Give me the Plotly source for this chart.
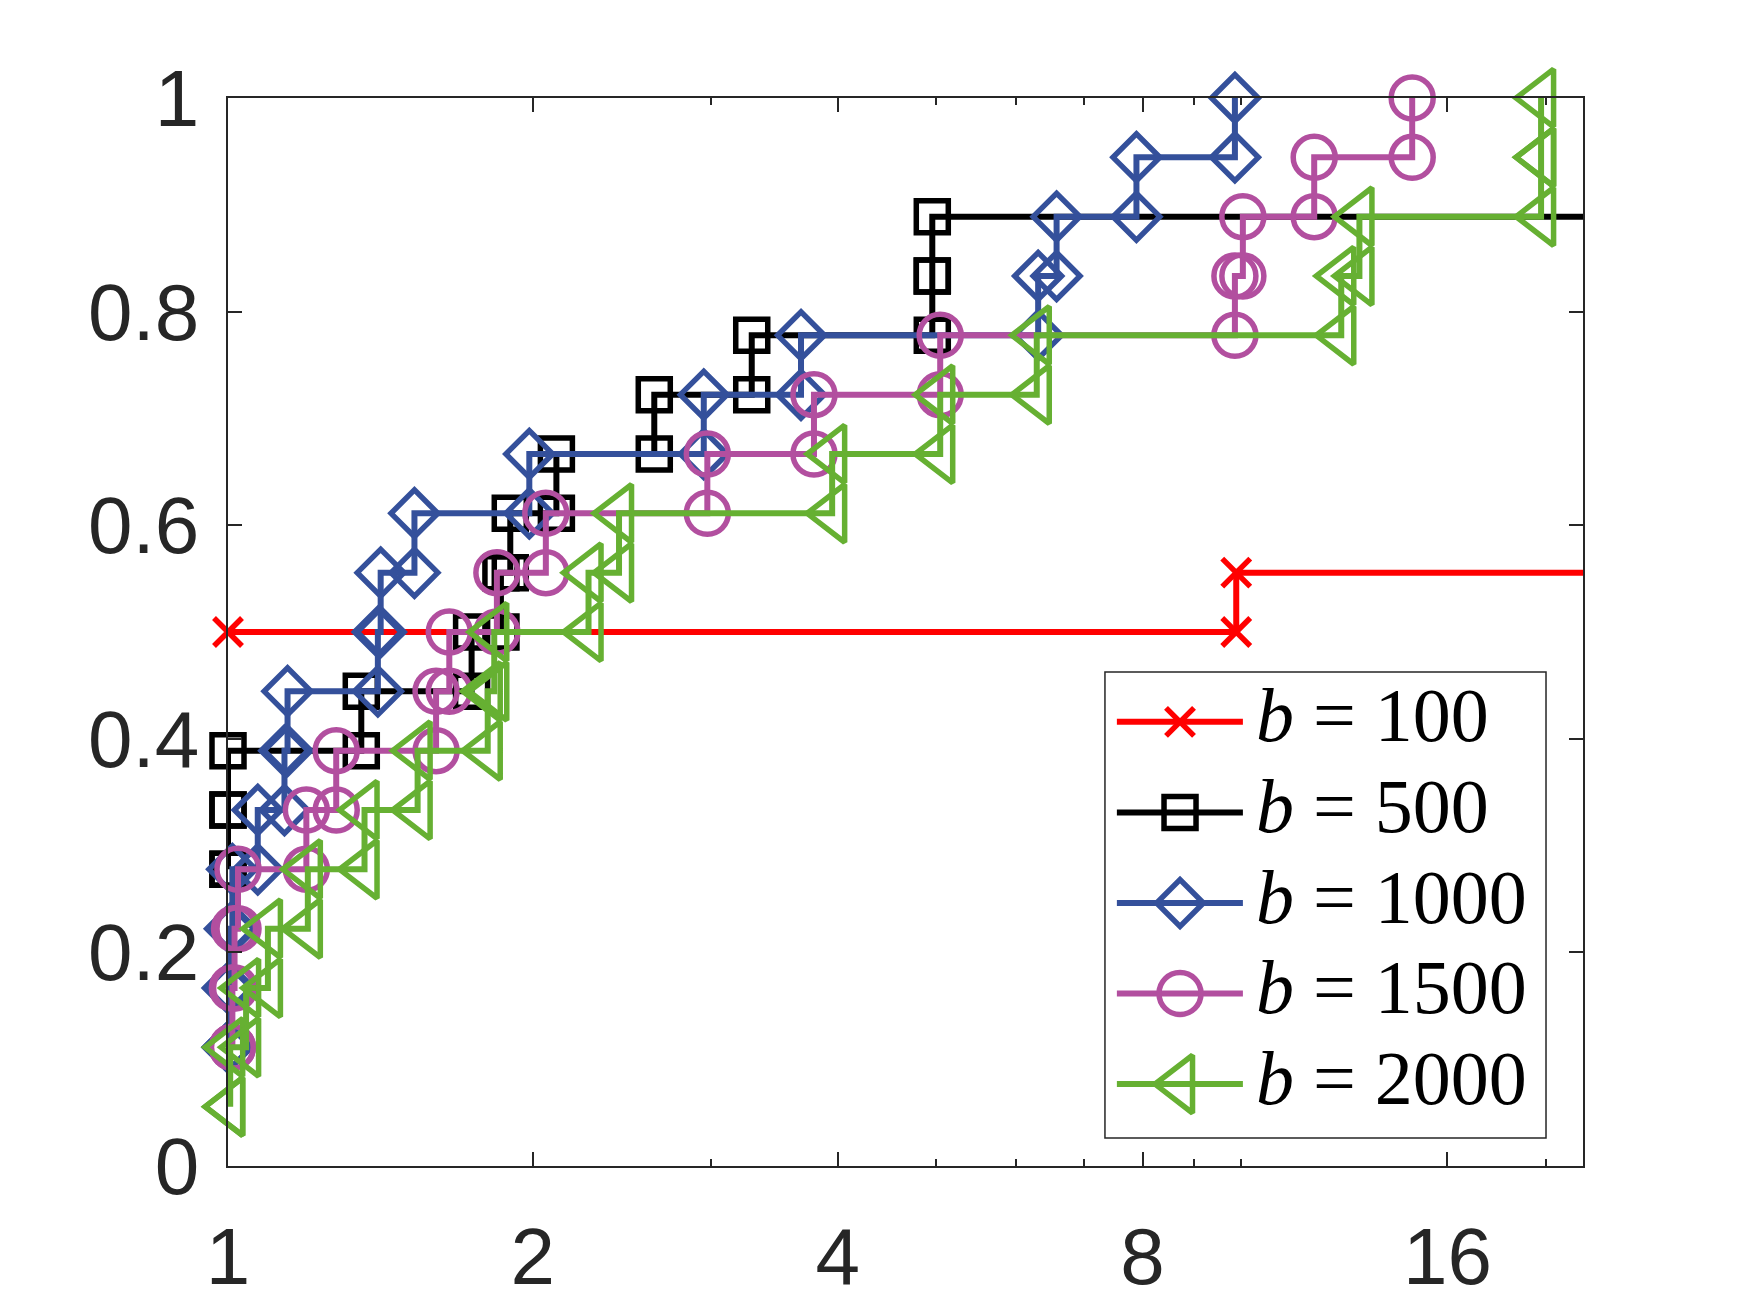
import math
import plotly.graph_objects as go

# performance profile: 18 test problems, ratio axis in log2
N_PROBLEMS = 18
MAX_RATIO = 19.8
FAIL_RATIO = 2 * MAX_RATIO   # failed runs, drawn off to the right

# ratio at which each profile steps up, and number of problems solved there
tau_b100 = [1.0, 9.9, FAIL_RATIO]
cnt_b100 = [9, 10, 18]

tau_b500 = [1.0, 1.0, 1.0, 1.354, 1.74, 1.86, 1.90, 2.11, 2.636, 3.29, 4.96, 4.96, FAIL_RATIO]
cnt_b500 = [5, 6, 7, 8, 9, 10, 11, 12, 13, 14, 15, 16, 18]

tau_b1000 = [1.0, 1.0, 1.005, 1.01, 1.07, 1.137, 1.145, 1.406, 1.415, 1.528,
             1.984, 2.95, 3.68, 6.31, 6.58, 7.89, 9.87]
cnt_b1000 = [2, 3, 4, 5, 6, 7, 8, 9, 10, 11, 12, 13, 14, 15, 16, 17, 18]

tau_b1500 = [1.01, 1.01, 1.015, 1.023, 1.195, 1.279, 1.605, 1.654, 1.843, 2.06,
             2.974, 3.79, 5.05, 9.87, 10.05, 11.82, 14.77]
cnt_b1500 = [2, 3, 4, 5, 6, 7, 8, 9, 10, 11, 12, 13, 14, 15, 16, 17, 18]

tau_b2000 = [1.005, 1.005, 1.042, 1.095, 1.199, 1.364, 1.539, 1.805, 1.832, 2.27,
             2.433, 3.95, 5.05, 6.29, 12.57, 13.1, 19.8, 19.8]
cnt_b2000 = [1, 2, 3, 4, 5, 6, 7, 8, 9, 10, 11, 12, 13, 14, 15, 16, 17, 18]

labels = ["100", "500", "1000", "1500", "2000"]
x_ticks = [1, 2, 4, 8, 16]
x_minor = [3, 5, 6, 7, 9, 10, 20]
y_ticks = [0, 0.2, 0.4, 0.6, 0.8, 1]

series = [
    (tau_b100, cnt_b100, "#FF0000", "x-thin-open", 28),
    (tau_b500, cnt_b500, "#000000", "square-open", 32),
    (tau_b1000, cnt_b1000, "#34509B", "diamond-open", 36),
    (tau_b1500, cnt_b1500, "#B24F9F", "circle-open", 42),
    (tau_b2000, cnt_b2000, "#66B032", "triangle-left-open", 50),
]


def stairs(t, k):
    # same corners as matlab stairs(): marker on every corner
    xs, ys = [t[0]], [k[0] / N_PROBLEMS]
    for i in range(1, len(t)):
        xs += [t[i], t[i]]
        ys += [k[i - 1] / N_PROBLEMS, k[i] / N_PROBLEMS]
    return xs, ys


AX = "#262626"
LW = 6
MLW = 5.5

fig = go.Figure()
for (t, k, col, sym, ms), lab in zip(series, labels):
    xs, ys = stairs(t, k)
    fig.add_trace(go.Scatter(
        x=xs, y=ys, mode="lines+markers", name="b = " + lab,
        line=dict(color=col, width=LW),
        marker=dict(symbol=sym, size=ms, color=col, line=dict(color=col, width=MLW)),
        cliponaxis=False, showlegend=False,
    ))

# hand-made legend (large markers like the matlab one)
LEG_X0, LEG_X1, LEG_XM, LEG_TX = 0.656, 0.749, 0.7026, 0.757
LEG_Y0, LEG_DY = 0.4159, 0.0848
annotations = []
for i, ((t, k, col, sym, ms), lab) in enumerate(zip(series, labels)):
    yy = LEG_Y0 - i * LEG_DY
    fig.add_trace(go.Scatter(
        x=[LEG_X0, LEG_X1], y=[yy, yy], xaxis="x2", yaxis="y2",
        mode="lines", showlegend=False, hoverinfo="skip",
        line=dict(color=col, width=LW),
    ))
    fig.add_trace(go.Scatter(
        x=[LEG_XM], y=[yy], xaxis="x2", yaxis="y2",
        mode="markers", showlegend=False, hoverinfo="skip",
        marker=dict(symbol=sym, size=ms, color=col, line=dict(color=col, width=MLW)),
        cliponaxis=False,
    ))
    annotations.append(dict(
        x=LEG_TX, y=yy + 0.006, xref="paper", yref="paper", xanchor="left", yanchor="middle",
        text="<i>b</i> = " + lab, showarrow=False,
        font=dict(family="Liberation Serif", size=76, color="black"),
    ))

fig.update_layout(
    width=1750, height=1313,
    margin=dict(l=228, r=167, t=98, b=145),
    paper_bgcolor="white", plot_bgcolor="white",
    showlegend=False,
    annotations=annotations,
    shapes=[dict(type="rect", xref="paper", yref="paper", x0=0.6472, x1=0.9727,
                 y0=0.0262, y1=0.4626, line=dict(color=AX, width=1.5),
                 fillcolor="white", layer="below")],
    xaxis=dict(
        type="log", range=[0, math.log10(1.1 * MAX_RATIO)],
        tickvals=x_ticks, ticktext=[str(v) for v in x_ticks],
        ticks="inside", ticklen=14, tickwidth=1.5, tickcolor=AX,
        showline=True, linecolor=AX, linewidth=1.5, mirror="ticks",
        showgrid=False, zeroline=False, ticklabelstandoff=20,
        tickfont=dict(family="Liberation Sans", size=80, color=AX),
        minor=dict(tickvals=x_minor, ticks="inside", ticklen=7, tickwidth=1.5,
                   tickcolor=AX, showgrid=False),
    ),
    yaxis=dict(
        range=[0, 1], tickvals=y_ticks,
        ticks="inside", ticklen=14, tickwidth=1.5, tickcolor=AX,
        showline=True, linecolor=AX, linewidth=1.5, mirror="ticks",
        showgrid=False, zeroline=False, ticklabelstandoff=11,
        tickfont=dict(family="Liberation Sans", size=80, color=AX),
    ),
    xaxis2=dict(overlaying="x", range=[0, 1], visible=False, anchor="y2"),
    yaxis2=dict(overlaying="y", range=[0, 1], visible=False, anchor="x2"),
)

fig.write_html("out.html", config={"displayModeBar": False},
               post_script="document.body.style.margin='0';")
